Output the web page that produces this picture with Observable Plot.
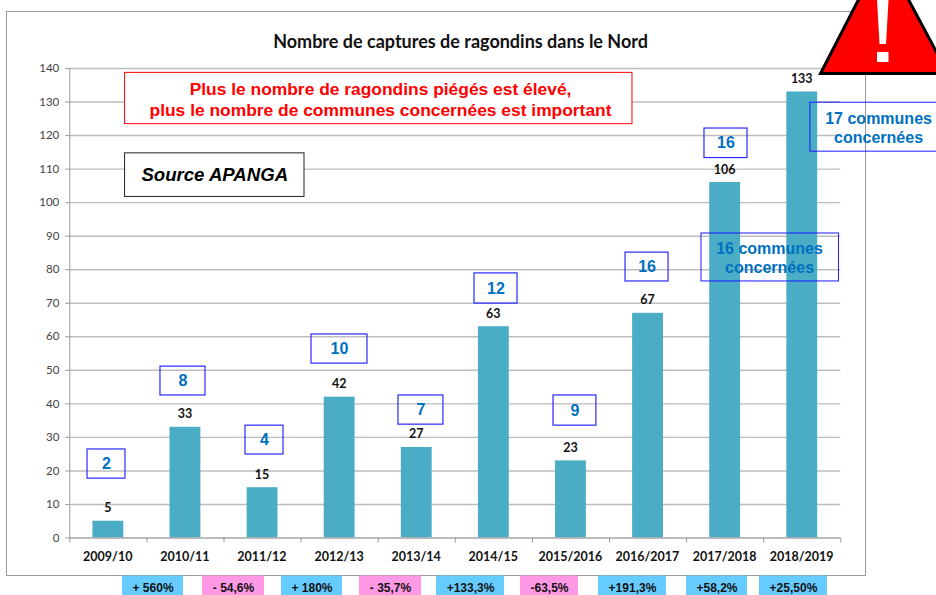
<!DOCTYPE html>
<html><head><meta charset="utf-8">
<script src="https://cdn.jsdelivr.net/npm/d3@7"></script>
<script src="https://cdn.jsdelivr.net/npm/@observablehq/plot@0.6"></script>
<style>
html,body{margin:0;padding:0;background:#fff;overflow:hidden}
#wrap{position:relative;width:936px;height:595px}
#wrap svg{position:absolute;left:0;top:0;overflow:hidden}
</style></head><body><div id="wrap"></div>
<script>
const seasons = ["2009/10","2010/11","2011/12","2012/13","2013/14","2014/15","2015/2016","2016/2017","2017/2018","2018/2019"];
const captures = [5,33,15,42,27,63,23,67,106,133];
const communes = [2,8,4,10,7,12,9,16,16];
const variations = ["+ 560%","- 54,6%","+ 180%","- 35,7%","+133,3%","-63,5%","+191,3%","+58,2%","+25,50%"];
const variationUp = [true,false,true,false,true,false,true,true,true];
const yTicks = d3.range(0,141,10);

// annotation placement, in chart units (x: season index, y: captures)
const communeX1 = [.23,1.176,2.279,3.135,4.263,5.249,6.274,7.208,8.232];
const communeX2 = [.722,1.76,2.772,3.861,4.846,5.807,6.83,7.766,8.79];
const communeY1 = [17.7,42.5,24.9,52,33.8,69.9,33.5,76.5,113.3];
const communeY2 = [26.4,51.1,33.5,60.7,42.5,78.9,42.5,85.1,122.1];
const varX1 = [.684,1.721,2.745,3.757,4.756,5.845,6.857,7.999,8.945];
const varX2 = [1.475,2.525,3.537,4.562,5.638,6.598,7.739,8.79,9.827];
const notes = [
  {x1:.717,x2:7.298,y1:123.4,y2:138.7,cx:4.03,cy:131,t:"Plus le nombre de ragondins piégés est élevé,\nplus le nombre de communes concernées est important",color:"#ff0000",stroke:"#ff0000",fill:"#fff",style:"normal"},
  {x1:.717,x2:3.044,y1:101.7,y2:114.7,cx:1.88,cy:108.2,t:"Source APANGA",color:"#000",stroke:"#222",fill:"#fff",style:"italic"}
];
const callouts = [
  {x1:8.193,x2:9.976,y1:76.5,y2:90.8,cx:9.076,cy:83.6,t:"16 communes\nconcernées"},
  {x1:9.606,x2:11.3,y1:115.2,y2:129.8,cx:10.49,cy:122.3,t:"17 communes\nconcernées"}
];
const rows = seasons.map((s,i)=>({s,i,v:captures[i]}));
const com = communes.map((c,i)=>({c,x1:communeX1[i],x2:communeX2[i],y1:communeY1[i],y2:communeY2[i]}));
const vars = variations.map((t,i)=>({t,up:variationUp[i],x1:varX1[i],x2:varX2[i]}));
const lato = "Lato, Carlito, sans-serif", arial = "'Liberation Sans', Arial, sans-serif";

const chart = Plot.plot({
  width:936, height:595,
  marginLeft:69.3, marginRight:95.7, marginTop:68, marginBottom:57.5,
  style:{background:"transparent",fontFamily:lato},
  x:{type:"linear",domain:[0,10]},
  y:{domain:[0,140]},
  marks:[
    Plot.ruleY(yTicks.filter(d=>d>0),{stroke:"#bdbdbd",strokeWidth:1.4}),
    Plot.rectY(rows,{x1:d=>d.i+.3,x2:d=>d.i+.7,y1:0,y2:"v",fill:"#4bacc6"}),
    Plot.ruleY([0],{stroke:"#a6a6a6",strokeWidth:1.3}),
    Plot.axisY({ticks:yTicks,tickSize:4,tickPadding:6.5,stroke:"#999",fill:"#444",fontSize:11.5,label:null}),
    Plot.ruleX([0],{y1:0,y2:140,stroke:"#999"}),
    Plot.axisX({ticks:d3.range(0,11),tickSize:5,tickFormat:()=>"",stroke:"#999",label:null}),
    Plot.axisX({ticks:d3.range(0,10).map(i=>i+.5),tickSize:0,tickPadding:14,dx:-.6,tickFormat:d=>seasons[Math.floor(d)],fontSize:12.5,fontWeight:"bold",fill:"#111",label:null}),
    Plot.text(rows,{x:d=>d.i+.5,y:"v",text:d=>String(d.v),dy:-13,dx:-.5,fontSize:12.5,fontWeight:"bold",fill:"#111"}),
    Plot.text(["Nombre de captures de ragondins dans le Nord"],{x:5.068,y:147.7,text:d=>d,fontSize:18,fontWeight:"bold",fill:"#111"}),
    Plot.rect(notes,{x1:"x1",x2:"x2",y1:"y1",y2:"y2",fill:"fill",stroke:"stroke",strokeWidth:1}),
    Plot.text(notes.filter(n=>n.style==="normal"),{x:"cx",y:"cy",text:"t",fill:"color",fontSize:17.4,fontWeight:"bold",fontFamily:arial,lineHeight:1.2}),
    Plot.text(notes.filter(n=>n.style==="italic"),{x:"cx",y:"cy",text:"t",fill:"color",fontSize:18.6,fontWeight:"bold",fontStyle:"italic",fontFamily:arial}),
    Plot.rect(com,{x1:"x1",x2:"x2",y1:"y1",y2:"y2",fill:"none",stroke:"#2a2aff",strokeWidth:1.2}),
    Plot.text(com,{x:d=>(d.x1+d.x2)/2,y:d=>(d.y1+d.y2)/2,text:d=>String(d.c),fill:"#0070c0",fontSize:16,fontWeight:"bold",fontFamily:arial}),
    Plot.rect(callouts,{x1:"x1",x2:"x2",y1:"y1",y2:"y2",fill:"none",stroke:"#1a1aff",strokeWidth:1}),
    Plot.text(callouts,{x:"cx",y:"cy",text:"t",fill:"#0070c0",fontSize:16,fontWeight:"bold",fontFamily:arial,lineHeight:1.17}),
    Plot.rect(vars,{x1:"x1",x2:"x2",y1:-11.33,y2:-17.2,fill:d=>d.up?"#66ccff":"#ff99e6"}),
    Plot.text(vars,{x:d=>(d.x1+d.x2)/2,y:-15,text:"t",fill:"#111",fontSize:12,fontWeight:"bold",fontFamily:arial})
  ]
});
const wrap = document.getElementById("wrap");
const frame = document.createElement("div");
frame.style.cssText="position:absolute;left:6px;top:11px;width:858px;height:563px;border:1px solid #999;box-sizing:content-box";
wrap.appendChild(frame);
wrap.appendChild(chart);
const ns="http://www.w3.org/2000/svg";
const sign=document.createElementNS(ns,"svg");
sign.setAttribute("width",936);sign.setAttribute("height",595);
sign.innerHTML='<polygon points="883,-48 820.5,73.5 948,73.5" fill="#ff0000" stroke="#000" stroke-width="3"/><polygon points="877,0 888.5,0 886,44 879.5,44" fill="#fff"/><rect x="877" y="52" width="11.5" height="10" fill="#fff"/>';
wrap.appendChild(sign);
</script></body></html>
